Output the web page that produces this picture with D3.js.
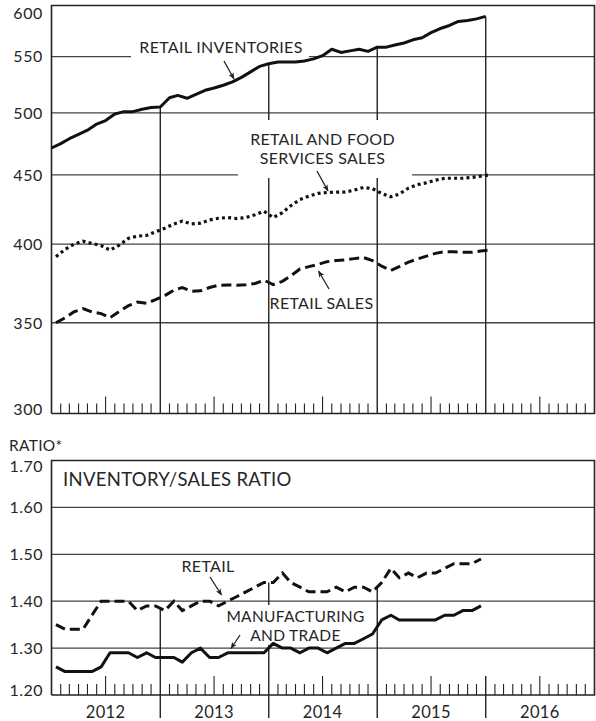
<!DOCTYPE html>
<html><head><meta charset="utf-8">
<script src="https://cdn.jsdelivr.net/npm/d3@7"></script>
<style>
body{margin:0;background:#fff}
svg{display:block}
text{font-family:Lato,'Noto Sans',sans-serif;fill:#262626;letter-spacing:0.3px}
</style>
</head><body>
<svg id="c" width="596" height="721"></svg>
<script>
// ---------- DATA ----------
const years = [2012, 2013, 2014, 2015, 2016];
const topTickValues = [300, 350, 400, 450, 500, 550, 600];
const topTickLabels = ["300", "350", "400", "450", "500", "550", "600"];
const ratioTickValues = [1.2, 1.3, 1.4, 1.5, 1.6, 1.7];
const ratioTickLabels = ["1.20", "1.30", "1.40", "1.50", "1.60", "1.70"];

// billions of dollars, monthly (Jan 2012 - Jan 2016)
const retailInventories = [471,474.5,478.5,482,485.5,490.5,493.5,499,501,501,503,504.5,
  505,513,515,512.5,516,519.5,521.5,524,527,531,536,541,
  543.5,545,545,545,546,548,551,557,554,555.5,557,555,
  559,559,561,563,566,568,573,577,580,584,585,586.5,589];
const retailFoodSales = [391.6,396.5,400,402,400.5,399,396,399.3,404,405.5,406,408.5,
  411,414,416,414,414.5,416.8,418,418.5,417.8,418.5,420.5,423,
  418.5,422,427,431.5,434,436,436.7,437,437,438.5,440.5,439.5,
  436,433.5,435.5,440,442.5,444,446,447.4,447.4,447.4,448,449,450];
const retailSales = [350,353,356.5,358.5,356.5,355.5,353,356.8,360.3,362.5,361.8,364,
  366.5,370,371.5,369.3,369.5,371.6,373,373.2,373,373.4,374.2,376.2,
  373.5,375.5,379,383.5,385,386.5,388.3,389,389.5,390.3,391,389,
  385.3,382.5,385,388,390,392,393.8,394.9,394.9,394.6,394.5,395.4,396];
// ratios, monthly (Jan 2012 - Dec 2015)
const retailRatio = [1.35,1.34,1.34,1.34,1.37,1.40,1.40,1.40,1.40,1.38,1.39,1.39,
  1.38,1.40,1.38,1.39,1.40,1.40,1.39,1.40,1.41,1.42,1.43,1.44,
  1.44,1.46,1.44,1.43,1.42,1.42,1.42,1.43,1.42,1.43,1.43,1.42,
  1.44,1.47,1.45,1.46,1.45,1.46,1.46,1.47,1.48,1.48,1.48,1.49];
const mfgTradeRatio = [1.26,1.25,1.25,1.25,1.25,1.26,1.29,1.29,1.29,1.28,1.29,1.28,
  1.28,1.28,1.27,1.29,1.30,1.28,1.28,1.29,1.29,1.29,1.29,1.29,
  1.31,1.30,1.30,1.29,1.30,1.30,1.29,1.30,1.31,1.31,1.32,1.33,
  1.36,1.37,1.36,1.36,1.36,1.36,1.36,1.37,1.37,1.38,1.38,1.39];

// ---------- LAYOUT ----------
const svg = d3.select('#c');
const L = 51.5, R = 594.5;
const T1 = 5.5, B1 = 413.5;
const T2 = 460.5, B2 = 695;
const INK = '#222', GRID = '#444';

const x = d3.scaleTime().domain([new Date(2012,0,1), new Date(2017,0,1)]).range([L, R]);
const y1 = d3.scaleLog().domain([300, 600]).range([B1, T1]);
const y2 = d3.scaleLinear().domain([1.2, 1.7]).range([B2, T2]);

const invDates = retailInventories.map((d,i) => new Date(2012, i, 1));
const salesDates = retailSales.map((d,i) => new Date(2012, i, 16));
const ratioDates = retailRatio.map((d,i) => new Date(2012, i, 16));

const gGrid = svg.append('g');
const gMask = svg.append('g');
const gData = svg.append('g');
const gText = svg.append('g');

svg.append('defs').append('marker').attr('id','arr')
  .attr('viewBox','0 0 10 10').attr('refX',9).attr('refY',5)
  .attr('markerWidth',7).attr('markerHeight',7).attr('orient','auto')
  .attr('markerUnits','userSpaceOnUse')
  .append('path').attr('d','M0,1 L10,5 L0,9 L2.5,5 Z').attr('fill', INK);

// ---------- TOP PANEL ----------
gGrid.selectAll('.h1').data(topTickValues.filter(v => v>300 && v<600)).join('line')
  .attr('x1', L).attr('x2', R).attr('y1', d=>y1(d)).attr('y2', d=>y1(d))
  .attr('stroke', GRID).attr('stroke-width', 1.3);
gGrid.append('path').attr('d', `M${L},${B1} V${T1} H${R} V${B1} H${L}`)
  .attr('fill','none').attr('stroke', INK).attr('stroke-width', 1.6);
gText.selectAll('.yl1').data(topTickValues).join('text')
  .attr('x', 43).attr('y', d => Math.min(Math.max(y1(d), T1+7.5), B1-4.5))
  .attr('dy','0.36em').attr('text-anchor','end').attr('font-size', 16)
  .style('letter-spacing','0.6px')
  .text((d,i)=>topTickLabels[i]);
years.slice(1).forEach(yr => {
  const idx = (yr-2012)*12;
  const v = retailInventories[idx];
  gGrid.append('line').attr('x1', x(new Date(yr,0,1))).attr('x2', x(new Date(yr,0,1)))
    .attr('y1', y1(v)).attr('y2', B1).attr('stroke', INK).attr('stroke-width', 1.4);
});
function monthTicks(base, shortH, longH) {
  for (let m = 1; m < 60; m++) {
    if (m % 12 === 0) continue;
    const xx = x(new Date(2012, m, 1));
    gGrid.append('line').attr('x1', xx).attr('x2', xx)
      .attr('y1', base).attr('y2', base - (m % 12 === 6 ? longH : shortH))
      .attr('stroke', INK).attr('stroke-width', 1.1);
  }
}
monthTicks(B1, 10, 17);

gMask.append('rect').attr('x',131).attr('y',38).attr('width',178).attr('height',23).attr('fill','#fff');
gMask.append('rect').attr('x',238).attr('y',120).attr('width',174).attr('height',58).attr('fill','#fff');

const lineInv = d3.line().x((d,i)=>x(invDates[i])).y(d=>y1(d));
const lineSales = d3.line().x((d,i)=>x(salesDates[i])).y(d=>y1(d));
gData.append('path').attr('d', lineInv(retailInventories)).attr('fill','none')
  .attr('stroke','#111').attr('stroke-width',3).attr('stroke-linejoin','round');
gData.append('path').attr('d', lineSales(retailFoodSales)).attr('fill','none')
  .attr('stroke','#111').attr('stroke-width',3.2).attr('stroke-dasharray','3,3.2');
gData.append('path').attr('d', lineSales(retailSales)).attr('fill','none')
  .attr('stroke','#111').attr('stroke-width',3).attr('stroke-dasharray','10,5');

function label(lines, cx, cy, size, lh) {
  lines.forEach((t,i) => gText.append('text').attr('x',cx).attr('y',cy+i*lh)
    .attr('dy','0.36em').attr('text-anchor','middle').attr('font-size',size).text(t));
}
function arrow(x1,y1_,x2,y2_) {
  gText.append('line').attr('x1',x1).attr('y1',y1_).attr('x2',x2).attr('y2',y2_)
    .attr('stroke',INK).attr('stroke-width',1.3).attr('marker-end','url(#arr)');
}
label(['RETAIL INVENTORIES'], 221, 47, 16, 0);
arrow(224, 61, 234, 79);
label(['RETAIL AND FOOD','SERVICES SALES'], 322.5, 139.5, 16, 19);
arrow(317, 171, 328, 191);
label(['RETAIL SALES'], 321.5, 303, 16, 0);
arrow(329, 289, 318.5, 271);

// ---------- BOTTOM PANEL ----------
gGrid.selectAll('.h2').data(ratioTickValues.filter(v => v>1.2 && v<1.7)).join('line')
  .attr('x1', L).attr('x2', R).attr('y1', d=>y2(d)).attr('y2', d=>y2(d))
  .attr('stroke', GRID).attr('stroke-width', 1.3);
gGrid.append('path').attr('d', `M${L},${B2} V${T2} H${R} V${B2} H${L}`)
  .attr('fill','none').attr('stroke', INK).attr('stroke-width', 1.6);
gText.selectAll('.yl2').data(ratioTickValues).join('text')
  .attr('x', 43).attr('y', d => Math.min(Math.max(y2(d), T2+6), B2-5))
  .attr('dy','0.36em').attr('text-anchor','end').attr('font-size', 16)
  .style('letter-spacing','0.5px')
  .text((d,i)=>ratioTickLabels[i]);
years.slice(1).forEach(yr => {
  const idx = (yr-2012)*12;
  const xx = x(new Date(yr,0,1));
  let top;
  if (idx < retailRatio.length) top = y2((retailRatio[idx-1] + retailRatio[idx]) / 2);
  else top = B2 - 19;
  gGrid.append('line').attr('x1', xx).attr('x2', xx)
    .attr('y1', top).attr('y2', 718).attr('stroke', INK).attr('stroke-width', 1.4);
});
monthTicks(B2, 11, 19);
gMask.append('rect').attr('x',216).attr('y',605).attr('width',158).attr('height',40).attr('fill','#fff');

const lineRatio = d3.line().x((d,i)=>x(ratioDates[i])).y(d=>y2(d));
gData.append('path').attr('d', lineRatio(retailRatio)).attr('fill','none')
  .attr('stroke','#111').attr('stroke-width',3).attr('stroke-dasharray','10,5');
gData.append('path').attr('d', lineRatio(mfgTradeRatio)).attr('fill','none')
  .attr('stroke','#111').attr('stroke-width',3).attr('stroke-linejoin','round');

gText.append('text').attr('x', 9).attr('y', 445).attr('dy','0.36em').attr('font-size',15.5).text('RATIO*');
gText.append('text').attr('x', 63).attr('y', 479).attr('dy','0.36em').attr('font-size',18.5).text('INVENTORY/SALES RATIO');
label(['RETAIL'], 208, 566, 16, 0);
arrow(210, 577, 221.5, 595);
label(['MANUFACTURING','AND TRADE'], 295.5, 616.5, 15.5, 19);
arrow(240, 635, 231, 648.5);

gText.selectAll('.yr').data(years).join('text')
  .attr('x', d => x(new Date(d,6,1))).attr('y', 712).attr('dy','0.36em')
  .attr('text-anchor','middle').attr('font-size',16.5).text(d=>d);
</script>
</body></html>
